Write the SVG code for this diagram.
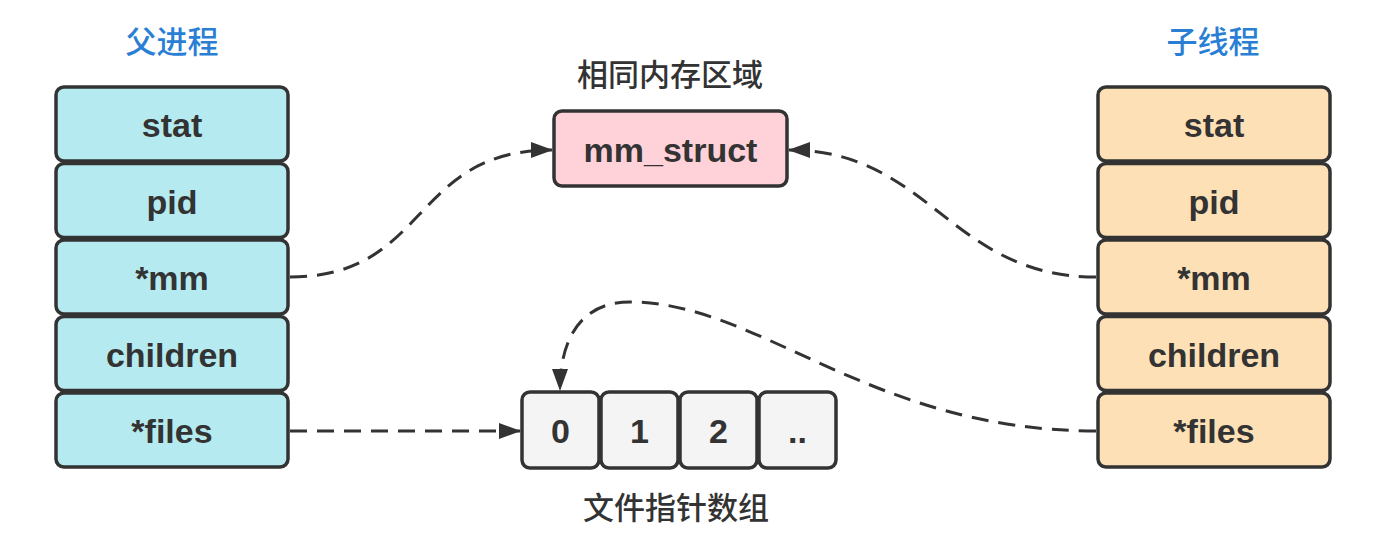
<svg xmlns="http://www.w3.org/2000/svg" width="1399" height="553" viewBox="0 0 1399 553">
<style>
.box{stroke:#333;stroke-width:3.5}
.p{fill:#B5EBF0}
.c{fill:#FEE0B6}
.m{fill:#FFD1D9}
.a{fill:#F4F4F4}
.t{font-family:"Liberation Sans","DejaVu Sans",sans-serif;font-weight:bold;font-size:34px;fill:#333;text-anchor:middle;dominant-baseline:central}
.n{font-family:"Liberation Sans","DejaVu Sans",sans-serif;font-weight:bold;font-size:34px;fill:#333;text-anchor:middle;dominant-baseline:central}
.h{font-family:"Noto Sans CJK SC",sans-serif;font-weight:500;font-size:31px;fill:#2A7FD5;text-anchor:middle}
.l{font-family:"Noto Sans CJK SC",sans-serif;font-weight:500;font-size:31px;fill:#333;text-anchor:middle}
.e{fill:none;stroke:#333;stroke-width:3;stroke-dasharray:17 10}
</style>
<defs>
<marker id="ar" viewBox="0 0 22 16" refX="21" refY="8" markerWidth="22" markerHeight="16" markerUnits="userSpaceOnUse" orient="auto">
<path d="M0,0 L22,8 L0,16 Z" fill="#333"/>
</marker>
</defs>
<rect width="1399" height="553" fill="#fff"/>

<text class="h" x="172" y="53">父进程</text>
<text class="h" x="1213" y="53">子线程</text>
<text class="l" x="670" y="86">相同内存区域</text>
<text class="l" x="676" y="519">文件指针数组</text>

<g id="parent">
<g id="p-stat"><rect class="box p" x="56" y="87" width="232" height="74" rx="8"/><text class="t" x="172" y="125">stat</text></g>
<g id="p-pid"><rect class="box p" x="56" y="163.5" width="232" height="74" rx="8"/><text class="t" x="172" y="201.5">pid</text></g>
<g id="p-mm"><rect class="box p" x="56" y="240" width="232" height="74" rx="8"/><text class="t" x="172" y="278">*mm</text></g>
<g id="p-children"><rect class="box p" x="56" y="316.5" width="232" height="74" rx="8"/><text class="t" x="172" y="354.5">children</text></g>
<g id="p-files"><rect class="box p" x="56" y="393" width="232" height="74" rx="8"/><text class="t" x="172" y="431">*files</text></g>
</g>

<g id="child">
<g id="c-stat"><rect class="box c" x="1098" y="87" width="232" height="74" rx="8"/><text class="t" x="1214" y="125">stat</text></g>
<g id="c-pid"><rect class="box c" x="1098" y="163.5" width="232" height="74" rx="8"/><text class="t" x="1214" y="201.5">pid</text></g>
<g id="c-mm"><rect class="box c" x="1098" y="240" width="232" height="74" rx="8"/><text class="t" x="1214" y="278">*mm</text></g>
<g id="c-children"><rect class="box c" x="1098" y="316.5" width="232" height="74" rx="8"/><text class="t" x="1214" y="354.5">children</text></g>
<g id="c-files"><rect class="box c" x="1098" y="393" width="232" height="74" rx="8"/><text class="t" x="1214" y="431">*files</text></g>
</g>

<g id="mm_struct"><rect class="box m" x="554" y="111" width="233" height="75" rx="8"/><text class="t" x="670.5" y="150">mm_struct</text></g>

<g id="files-array">
<g id="f0"><rect class="box a" x="522" y="392" width="77" height="76" rx="8"/><text class="n" x="560.5" y="431">0</text></g>
<g id="f1"><rect class="box a" x="601" y="392" width="77" height="76" rx="8"/><text class="n" x="639.5" y="431">1</text></g>
<g id="f2"><rect class="box a" x="680" y="392" width="77" height="76" rx="8"/><text class="n" x="718.5" y="431">2</text></g>
<g id="f3"><rect class="box a" x="759" y="392" width="77" height="76" rx="8"/><text class="n" x="797.5" y="431">..</text></g>
</g>

<g id="connectors">
<path class="e" d="M290,277 C430,277 410,150 552,150" marker-end="url(#ar)"/>
<path class="e" d="M1096,277 C950,277 930,150 789,150" marker-end="url(#ar)"/>
<path class="e" d="M290,431 L520,431" marker-end="url(#ar)"/>
<path class="e" d="M1096,431 C870,431 760,302 630,302 C580,302 560,340 560,390" marker-end="url(#ar)"/>
</g>
</svg>
